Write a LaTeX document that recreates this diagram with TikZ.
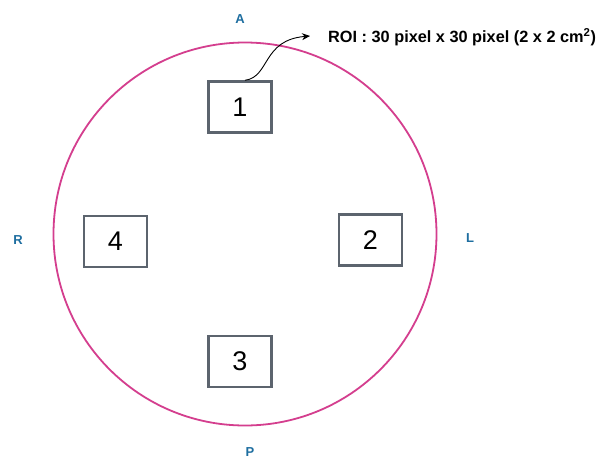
\documentclass[tikz,border=0pt]{standalone}
\usepackage{fontspec}
\setmainfont{Liberation Sans}
\usetikzlibrary{arrows.meta}
\definecolor{ring}{RGB}{212,62,142}
\definecolor{boxgray}{RGB}{92,100,110}
\definecolor{lbl}{RGB}{30,110,160}
\begin{document}
\begin{tikzpicture}[x=1pt,y=-1pt,
  roi/.style={draw=boxgray,line width=2.4pt,minimum width=63pt,minimum height=51pt,inner sep=0pt,font=\fontsize{27}{27}\selectfont},
  dirlbl/.style={text=lbl,font=\bfseries\fontsize{13}{13}\selectfont}]
\useasboundingbox (0,0) rectangle (606,459);
\fill[white] (0,0) rectangle (606,459);
\node[draw=ring,line width=1.8pt,circle,minimum size=383pt,inner sep=0pt] (c) at (245,234) {};
\node[roi] (b1) at (240,107) {1};
\node[roi] (b2) at (370.5,240) {2};
\node[roi] (b3) at (240,361.5) {3};
\node[roi] (b4) at (115.5,241.5) {4};
\node[dirlbl] (A) at (240,19) {A};
\node[dirlbl] (R) at (18,240) {R};
\node[dirlbl] (L) at (470,238) {L};
\node[dirlbl] (P) at (250,452) {P};
\node[anchor=west,font=\bfseries\fontsize{16.3}{17}\selectfont,inner sep=0pt] (t) at (328,37) {ROI : 30 pixel x 30 pixel (2 x 2 cm\textsuperscript{2})};
\coordinate (tip) at (310,36);
\draw[-{Stealth[length=8pt,width=7pt]},line width=0.9pt] ([xshift=5pt]b1.north) .. controls (270,77) and (262,40) .. (tip);
\end{tikzpicture}
\end{document}
